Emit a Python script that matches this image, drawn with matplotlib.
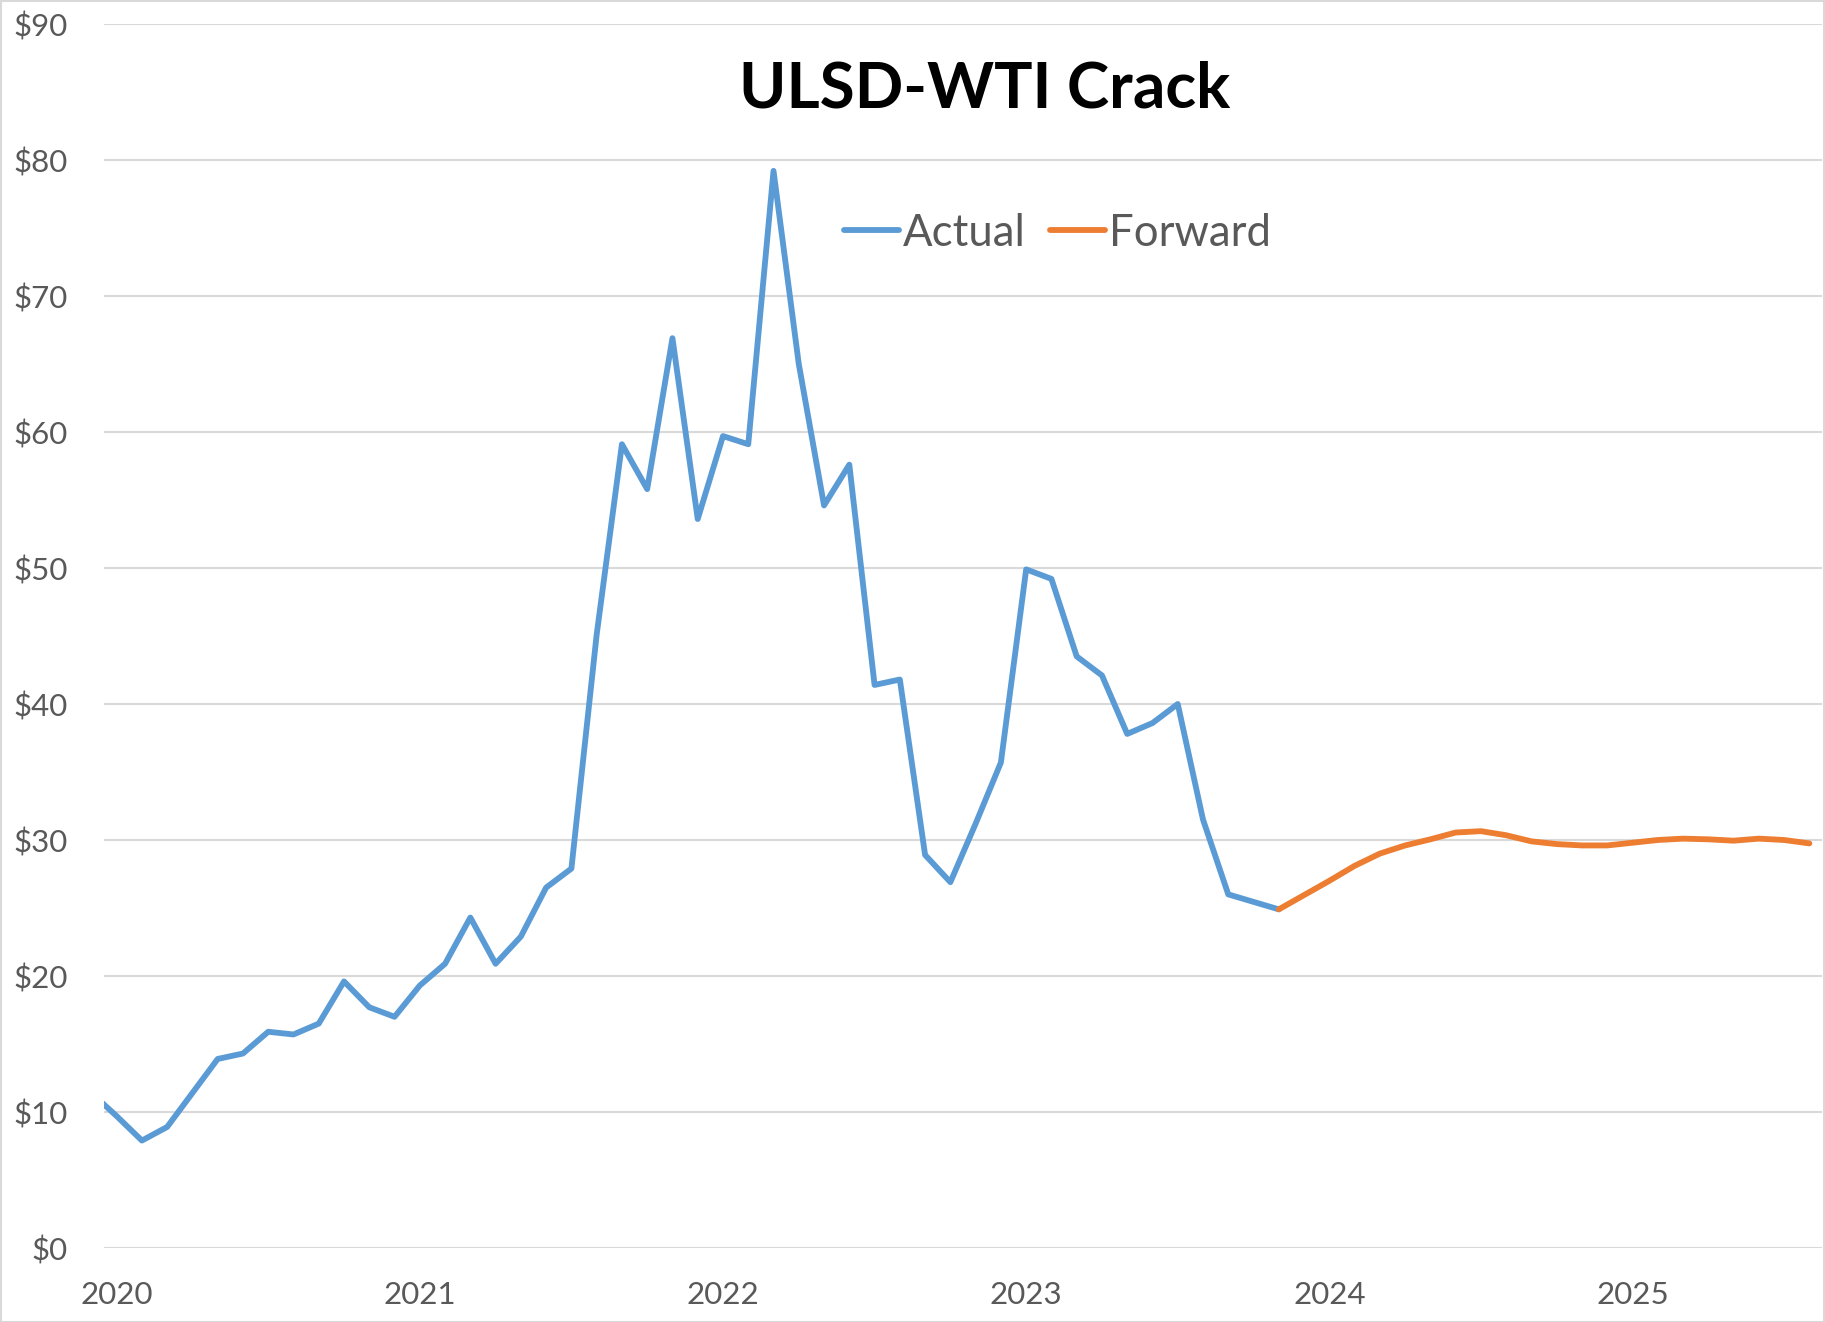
import numpy as np
import matplotlib
matplotlib.use("Agg")
import matplotlib.pyplot as plt
from matplotlib.patches import Rectangle

# ---- data (monthly, Dec 2019 .. Aug 2025) ----
actual_start = "2019-12"
actual = [11.4,
          9.7, 7.9, 8.9, 11.4, 13.9, 14.3, 15.9, 15.7, 16.5, 19.6, 17.7, 17.0,
          19.3, 20.9, 24.3, 20.9, 22.9, 26.5, 27.9, 45.1, 59.1, 55.8, 66.9, 53.6,
          59.7, 59.1, 79.2, 65.0, 54.6, 57.6, 41.4, 41.8, 28.9, 26.9, 31.2, 35.7,
          49.9, 49.2, 43.5, 42.1, 37.8, 38.6, 40.0, 31.5, 26.0, 25.45, 24.9]
forward_start = "2023-11"
forward = [24.9, 25.95, 27.0, 28.1, 29.0, 29.6, 30.05, 30.55, 30.65, 30.35, 29.9,
           29.7, 29.6, 29.6, 29.8, 30.0, 30.1, 30.05, 29.95, 30.1, 30.0, 29.75]
year_labels = ["2020", "2021", "2022", "2023", "2024", "2025"]
y_ticks = [0, 10, 20, 30, 40, 50, 60, 70, 80, 90]
title = "ULSD-WTI Crack"
series_names = ["Actual", "Forward"]


def month_index(start, n):
    y, m = map(int, start.split("-"))
    base = (y - 2020) * 12 + (m - 1)
    return np.arange(base, base + n)


x_act = month_index(actual_start, len(actual))
x_fwd = month_index(forward_start, len(forward))

W, H = 1825, 1322
fig = plt.figure(figsize=(W / 100, H / 100), dpi=100)
fig.patch.set_facecolor("white")
FONT = "Lato"
GRAY = "#595959"

L, R, B, T = 104, 1822, 1248, 24
ax = fig.add_axes([L / W, 1 - B / H, (R - L) / W, (B - T) / H])
ax.set_xlim(-0.5, 67.5)
ax.set_ylim(0, 90)

ax.plot(x_act, actual, color="#5B9BD5", lw=4.2, solid_joinstyle="round",
        solid_capstyle="round", label=series_names[0], zorder=3)
ax.plot(x_fwd, forward, color="#ED7D31", lw=4.2, solid_joinstyle="round",
        solid_capstyle="round", label=series_names[1], zorder=4)

ax.set_yticks(y_ticks)
ax.set_yticklabels([f"${v}" for v in y_ticks])
ax.set_xticks(np.arange(len(year_labels)) * 12)
ax.set_xticklabels(year_labels)
ax.grid(axis="y", color="#D9D9D9", lw=1.5, zorder=0)
ax.grid(axis="x", visible=False)
for s in ax.spines.values():
    s.set_visible(False)
ax.tick_params(axis="both", length=0, colors=GRAY, labelsize=22.5)
ax.tick_params(axis="y", pad=26)
ax.tick_params(axis="x", pad=24)
for lab in ax.get_xticklabels() + ax.get_yticklabels():
    lab.set_fontfamily(FONT)
    lab.set_color(GRAY)

fig.text(985 / W, 1 - 108 / H, title, ha="center", va="baseline",
         fontsize=46, fontweight="bold", family=FONT, color="black")

leg = ax.legend(loc="center left", bbox_to_anchor=(844 / W, 1 - 233 / H),
                bbox_transform=fig.transFigure, ncol=2, frameon=False,
                handlelength=1.25, handletextpad=0.1, columnspacing=0.55,
                borderpad=0, borderaxespad=0,
                prop={"family": FONT, "size": 31.5})
for t in leg.get_texts():
    t.set_color(GRAY)
for h in leg.get_lines():
    h.set_linewidth(4.2)

fig.add_artist(Rectangle((0.5 / W, 0.5 / H), 1 - 1.5 / W, 1 - 1.5 / H,
                         transform=fig.transFigure, fill=False,
                         edgecolor="#D9D9D9", lw=1.5))

fig.savefig("out.png", dpi=100)
